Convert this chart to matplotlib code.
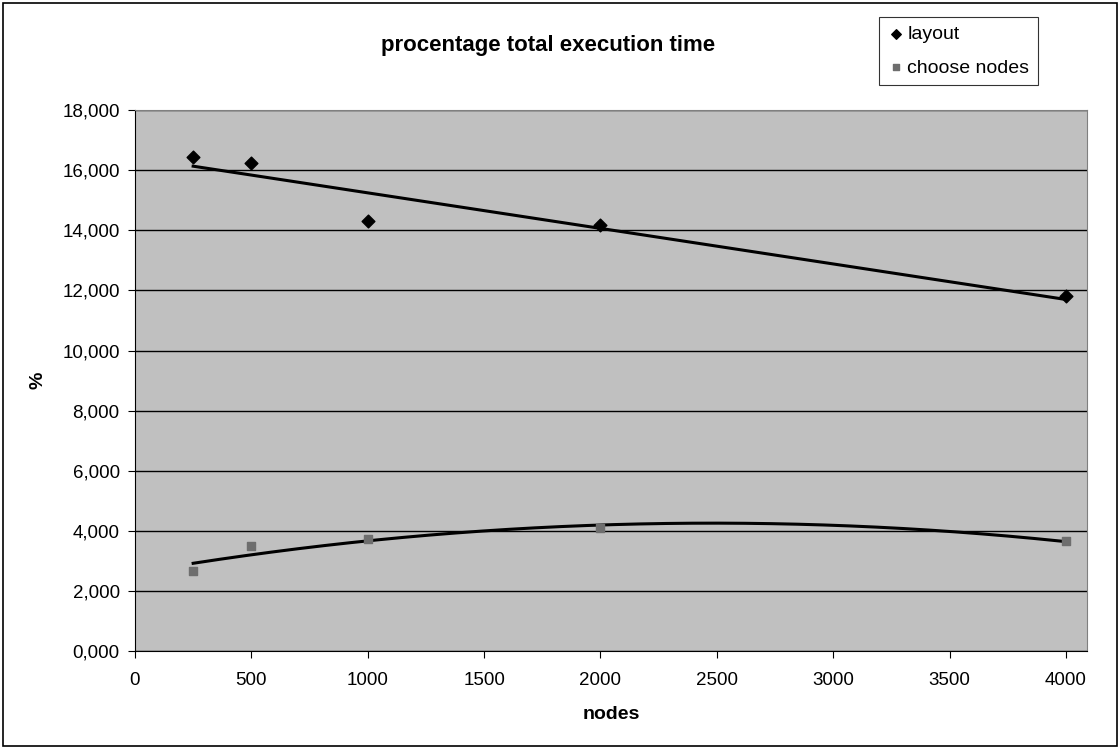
import numpy as np
import matplotlib.pyplot as plt
from matplotlib.patches import Rectangle

plt.rcParams['font.family'] = ['Liberation Sans', 'DejaVu Sans']

nodes = [250, 500, 1000, 2000, 4000]
layout = [16.45, 16.25, 14.30, 14.17, 11.81]
choose_nodes = [2.66, 3.49, 3.73, 4.08, 3.66]

fig = plt.figure(figsize=(11.2, 7.49), dpi=100)
ax = fig.add_axes([0.1205, 0.1308, 0.85, 0.7222])
ax.set_facecolor('#C0C0C0')

# trendlines (linear for layout, 2nd order polynomial for choose nodes)
xs = np.linspace(min(nodes), max(nodes), 300)
lin = np.polyfit(nodes, layout, 1)
quad = np.polyfit(nodes, choose_nodes, 2)
ax.plot(xs, np.polyval(lin, xs), color='black', lw=2.2, zorder=3)
ax.plot(xs, np.polyval(quad, xs), color='black', lw=2.2, zorder=3)

ax.scatter(nodes, layout, marker='D', s=42, color='black', zorder=4, label='layout')
ax.scatter(nodes, choose_nodes, marker='s', s=40, color='#6E6E6E', zorder=4, label='choose nodes')

ax.set_xlim(0, 4090)
ax.set_ylim(0, 18)
ax.set_xticks(range(0, 4001, 500))
ax.set_yticks(range(0, 19, 2))
ax.set_yticklabels([f"{v:.3f}".replace('.', ',') for v in range(0, 19, 2)])
ax.tick_params(labelsize=13.5, length=5, direction='out', color='black')
ax.tick_params(axis='y', pad=6)
ax.tick_params(axis='x', pad=10)
ax.yaxis.grid(True, color='black', lw=1.0)
ax.set_axisbelow(True)
for s in ax.spines.values():
    s.set_color('#808080')
ax.spines['left'].set_color('black')
ax.spines['bottom'].set_color('black')

ax.set_xlabel('nodes', fontsize=14, fontweight='bold', labelpad=12)
fig.text(38 / 1120, 1 - 380 / 749, '%', rotation=90, ha='center', va='center',
         fontsize=14, fontweight='bold')
fig.text(548 / 1120, 1 - 45 / 749, 'procentage total execution time', ha='center', va='center',
         fontsize=16, fontweight='bold')

leg = fig.legend(loc='upper left', bbox_to_anchor=(879 / 1120, 1 - 17 / 749), fontsize=14,
                 frameon=True, fancybox=False, edgecolor='black', handletextpad=0.2,
                 handlelength=0.8, borderpad=0.45, labelspacing=0.8, markerscale=0.75,
                 borderaxespad=0)
leg.get_frame().set_linewidth(0.8)

fig.patches.append(Rectangle((0.003, 0.004), 0.994, 0.992, transform=fig.transFigure,
                             fill=False, edgecolor='black', lw=1.2))

fig.savefig('out.png', dpi=100)
